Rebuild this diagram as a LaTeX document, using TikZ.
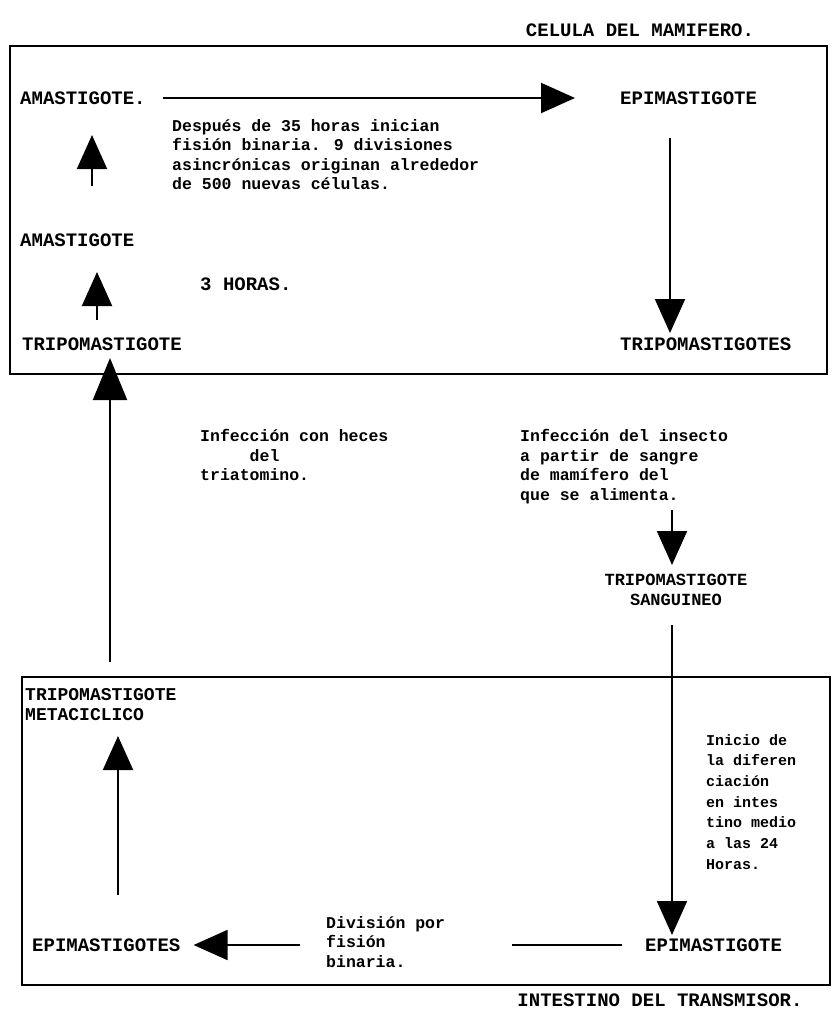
\documentclass[tikz,border=0pt]{standalone}
\usepackage{fontspec}
\newfontfamily\tw{Liberation Mono}
\usetikzlibrary{arrows.meta}
\tikzset{
  caps/.style={font=\tw\bfseries\fontsize{19}{20}\selectfont, inner sep=0pt, anchor=west},
  body/.style={font=\tw\bfseries\fontsize{16.5}{19.6}\selectfont, inner sep=0pt, anchor=north west, align=left},
  small/.style={font=\tw\bfseries\fontsize{15}{20.7}\selectfont, inner sep=0pt, anchor=north west, align=left},
  frame/.style={draw, line width=2.8pt},
  arr/.style={line width=2pt, -{Triangle[length=34pt,width=30pt]}},
  bigarr/.style={line width=2pt, -{Triangle[length=42pt,width=34pt]}},
}
\begin{document}
\begin{tikzpicture}[x=1pt,y=-1pt]
\useasboundingbox (0,0) rectangle (832,1010);
% boxes
\draw[frame] (10,46) rectangle (827,374);
\draw[frame] (22,677) rectangle (830,985);
% titles
\node[caps, anchor=center] (tit) at (640,30) {CELULA DEL MAMIFERO.};
\node[caps, anchor=center] (intes) at (660,1000) {INTESTINO DEL TRANSMISOR.};
% top box
\node[caps] (am1) at (20,98) {AMASTIGOTE.};
\node[caps] (ep1) at (620,98) {EPIMASTIGOTE};
\node[body] (desp) at (172,119) {Después de 35 horas inician\\fisión binaria. 9 divisiones\\asincrónicas originan alrededor\\de 500 nuevas células.};
\node[caps] (am2) at (20,240) {AMASTIGOTE};
\node[caps] (hor) at (200,284) {3 HORAS.};
\node[caps] (tri1) at (22,344) {TRIPOMASTIGOTE};
\node[caps] (tri2) at (620,344) {TRIPOMASTIGOTES};
% middle
\node[body] (infh) at (200,429) {Infección con heces\\\hspace*{3em}del\\triatomino.};
\node[body] (infi) at (520,429) {Infección del insecto\\a partir de sangre\\de mamífero  del\\que se alimenta.};
\node[caps, align=center, anchor=center, font=\tw\bfseries\fontsize{17}{20}\selectfont] (trs) at (676,590) {TRIPOMASTIGOTE\\SANGUINEO};
% bottom box
\node[caps, anchor=north west, align=left, font=\tw\bfseries\fontsize{18}{20}\selectfont] (trm) at (25,688) {TRIPOMASTIGOTE\\METACICLICO};
\node[small] (ini) at (706,734) {Inicio de\\la diferen\\ciación\\en intes\\tino medio\\a las 24\\Horas.};
\node[caps] (eps) at (32,945) {EPIMASTIGOTES};
\node[body] (div) at (326,916) {División por\\fisión\\binaria.};
\node[caps] (ep2) at (645,945) {EPIMASTIGOTE};
% coordinates for arrow ends
\coordinate (a2s) at (92,186);  \coordinate (a2e) at (92,135);
\coordinate (a3s) at (97,320);  \coordinate (a3e) at (97,272);
\coordinate (a4s) at (670,138); \coordinate (a4e) at (670,333);
\coordinate (a5s) at (110,662); \coordinate (a5e) at (110,358);
\coordinate (a6s) at (672,510); \coordinate (a6e) at (672,565);
\coordinate (a7s) at (672,625); \coordinate (a7e) at (672,935);
\coordinate (a8s) at (118,895); \coordinate (a8e) at (118,736);
\coordinate (a9s) at (300,945);
\coordinate (ls) at (512,945);
% connectors
\draw[arr] ([xshift=17pt]am1.east) -- ([xshift=-45pt]ep1.west);
\draw[arr] (a2s) -- (a2e);
\draw[arr] (a3s) -- (a3e);
\draw[arr] (a4s) -- (a4e);
\draw[bigarr] (a5s) -- (a5e);
\draw[arr] (a6s) -- (a6e);
\draw[arr] (a7s) -- (a7e);
\draw[arr] (a8s) -- (a8e);
\draw[arr] (a9s) -- ([xshift=13pt]eps.east);
\draw[line width=2pt] (ls) -- ([xshift=-23pt]ep2.west);
\end{tikzpicture}
\end{document}
